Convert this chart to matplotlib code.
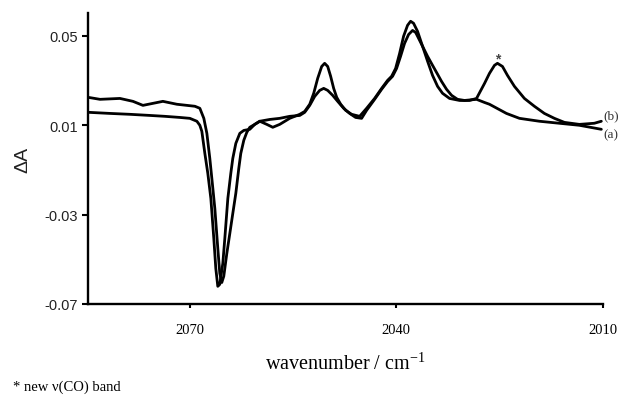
import matplotlib
matplotlib.use("Agg")
import matplotlib.pyplot as plt

# curve (a)
wn_a = [2084.80, 2081.61, 2078.71, 2075.81, 2073.63, 2071.45, 2070.00, 2068.98, 2068.55, 2068.26,
        2067.82, 2067.39, 2066.95, 2066.52, 2066.23, 2065.94, 2065.65, 2065.21, 2064.92, 2064.48,
        2064.05, 2063.76, 2063.32, 2062.74, 2062.16, 2061.29, 2060.57, 2059.84, 2058.39, 2056.94,
        2055.49, 2054.03, 2053.31, 2052.58, 2051.86, 2051.13, 2050.55, 2049.97, 2049.25, 2048.52,
        2047.65, 2046.78, 2045.91, 2045.04, 2044.31, 2043.15, 2042.13, 2041.26, 2040.54, 2039.96,
        2039.38, 2038.80, 2038.21, 2037.63, 2037.19, 2036.91, 2036.18, 2035.45, 2034.73, 2034.00,
        2033.42, 2032.70, 2031.97, 2031.10, 2030.09, 2028.34, 2027.18, 2026.46, 2023.99, 2022.10,
        2019.20, 2016.30, 2013.40, 2010.20]
dA_a = [0.0157, 0.0152, 0.0148, 0.0143, 0.0139, 0.0134, 0.0130, 0.0117, 0.0099, 0.0072,
        -0.0027, -0.0116, -0.0228, -0.0407, -0.0541, -0.0621, -0.0612, -0.0518, -0.0407, -0.0228,
        -0.0116, -0.0049, 0.0018, 0.0063, 0.0076, 0.0081, 0.0103, 0.0117, 0.0125, 0.0130,
        0.0139, 0.0143, 0.0157, 0.0188, 0.0228, 0.0255, 0.0264, 0.0255, 0.0233, 0.0206,
        0.0175, 0.0152, 0.0134, 0.0130, 0.0166, 0.0215, 0.0260, 0.0295, 0.0318, 0.0353,
        0.0407, 0.0465, 0.0505, 0.0523, 0.0514, 0.0497, 0.0452, 0.0407, 0.0367, 0.0327,
        0.0295, 0.0260, 0.0233, 0.0215, 0.0210, 0.0215, 0.0201, 0.0193, 0.0152, 0.0130,
        0.0117, 0.0108, 0.0099, 0.0081]

# curve (b)
wn_b = [2084.80, 2083.06, 2080.16, 2078.27, 2076.82, 2075.37, 2073.92, 2071.89, 2069.27, 2068.55,
        2067.97, 2067.53, 2067.10, 2066.66, 2066.37, 2065.94, 2065.65, 2065.36, 2065.07, 2064.63,
        2064.19, 2063.76, 2063.32, 2062.89, 2062.60, 2062.16, 2061.73, 2061.29, 2060.57, 2059.84,
        2058.82, 2057.95, 2056.94, 2055.49, 2054.03, 2053.31, 2052.58, 2052.00, 2051.42, 2050.84,
        2050.41, 2049.97, 2049.54, 2049.10, 2048.66, 2048.08, 2047.36, 2046.49, 2045.33, 2044.31,
        2043.15, 2042.13, 2041.26, 2040.68, 2040.10, 2039.52, 2038.94, 2038.36, 2037.92, 2037.49,
        2036.91, 2036.18, 2035.45, 2034.73, 2034.00, 2033.28, 2032.26, 2030.81, 2029.36, 2028.34,
        2027.18, 2026.46, 2025.73, 2025.30, 2024.57, 2023.84, 2022.83, 2021.38, 2019.93, 2018.48,
        2017.02, 2015.57, 2013.40, 2011.22, 2010.20]
dA_b = [0.0224, 0.0215, 0.0219, 0.0206, 0.0188, 0.0197, 0.0206, 0.0193, 0.0184, 0.0175,
        0.0130, 0.0063, -0.0049, -0.0183, -0.0273, -0.0451, -0.0563, -0.0604, -0.0576, -0.0474,
        -0.0384, -0.0295, -0.0205, -0.0094, -0.0027, 0.0032, 0.0067, 0.0090, 0.0103, 0.0117,
        0.0103, 0.0090, 0.0103, 0.0130, 0.0148, 0.0161, 0.0193, 0.0242, 0.0309, 0.0362,
        0.0376, 0.0362, 0.0318, 0.0264, 0.0224, 0.0193, 0.0166, 0.0148, 0.0139, 0.0175,
        0.0219, 0.0264, 0.0300, 0.0318, 0.0353, 0.0420, 0.0497, 0.0546, 0.0564, 0.0555,
        0.0519, 0.0452, 0.0385, 0.0322, 0.0273, 0.0242, 0.0219, 0.0210, 0.0210, 0.0219,
        0.0286, 0.0331, 0.0367, 0.0376, 0.0362, 0.0322, 0.0273, 0.0219, 0.0184, 0.0152,
        0.0130, 0.0112, 0.0103, 0.0108, 0.0117]

x_ticks = [2070, 2040, 2010]
y_ticks = [0.05, 0.01, -0.03, -0.07]
y_tick_labels = ["0.05", "0.01", "-0.03", "-0.07"]

fig = plt.figure(figsize=(6.19, 4.02), dpi=100)
ax = fig.add_axes([0.1422, 0.2413, 0.8315, 0.7239])

lw = 2.0
ax.plot(wn_a, dA_a, color="black", lw=lw, solid_joinstyle="round", solid_capstyle="round")
ax.plot(wn_b, dA_b, color="black", lw=lw, solid_joinstyle="round", solid_capstyle="round")

ax.set_xlim(2084.8, 2010)
ax.set_ylim(-0.07, 0.0601)

for s in ["top", "right"]:
    ax.spines[s].set_visible(False)
for s in ["left", "bottom"]:
    ax.spines[s].set_linewidth(1.7)

ax.set_xticks(x_ticks)
ax.set_xticklabels([str(t) for t in x_ticks], fontfamily="Liberation Serif", fontsize=10.5)
ax.set_yticks(y_ticks)
ax.set_yticklabels(y_tick_labels, fontfamily="Liberation Sans", fontsize=10.5, color="#222222")
ax.tick_params(axis="x", direction="out", length=3, width=1.5, pad=11)
ax.tick_params(axis="y", direction="out", length=4, width=1.5, pad=3)

ax.set_xlabel("wavenumber / cm$^{\\mathregular{-1}}$", fontfamily="Liberation Serif", fontsize=14.5, labelpad=11)
ax.set_ylabel("ΔA", fontfamily="Liberation Sans", fontsize=14, labelpad=10, color="#222222")

ax.text(2025.3, 0.0398, "*", ha="center", va="center", fontsize=10, fontfamily="Liberation Sans",
        fontweight="bold", color="#444444")
ax.text(2009.9, 0.0143, "(b)", ha="left", va="center", fontsize=9.5, fontfamily="Liberation Serif", color="#333333", clip_on=False)
ax.text(2009.9, 0.0058, "(a)", ha="left", va="center", fontsize=9.5, fontfamily="Liberation Serif", color="#333333", clip_on=False)

fig.text(0.021, 0.02, "* new ν(CO) band", fontfamily="Liberation Serif", fontsize=10.5, ha="left", va="bottom")

fig.savefig("out.png", dpi=100)
